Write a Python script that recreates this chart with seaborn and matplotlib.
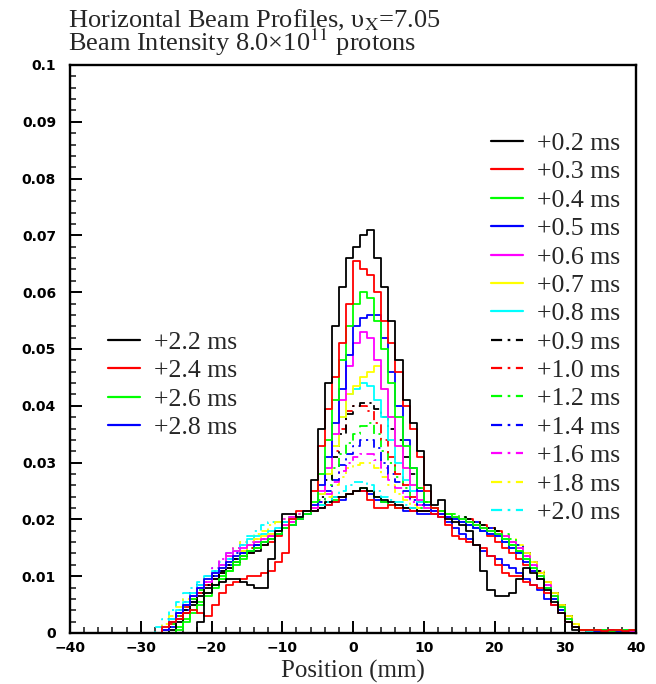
import numpy as np
import pandas as pd
import matplotlib
matplotlib.use("Agg")
import matplotlib.pyplot as plt
import seaborn as sns
from matplotlib.lines import Line2D
from matplotlib.ticker import MultipleLocator

# ---------------- data (values in units of 1e-3, 1 mm bins from -30 to 40 mm) ----------
bin_edges_mm = list(range(-30, 41))

t0_2 = [0,0,0,0,0,0,0,0,2,7,
        8.5,9,9.5,9.5,9,8.5,8,8,13,18,
        21,21,20.5,21.5,27,36,44,54,61,66,
        68,70,71,66,61,55,48,41,37,32,
        26,22.5,23.5,20,19.5,19,18,15.5,11,7.5,
        6.5,6.5,7,9.5,11.5,10.5,9.5,7.5,5.5,3.5,
        2,1,0,0,0,0,0,0,0,0]
t0_3 = [0,0,0,1,2,2.5,3.5,4,3.5,3,
        5,7,8.5,9,9.5,10,10,10.5,11,12.5,
        14,20,21.5,21.5,25,33,39.5,45,51,58,
        65.5,64,63,60,55,51,46,40,36,31,
        25,22,20.5,19,17,16.5,16,15.5,15,13.5,
        12,10.5,10,10,9,8.5,8,7,5,3.5,
        2,1,0.5,0.5,0.5,0.3,0.5,0.5,0.3,0.5]
t0_4 = [0,0,0,0,0,0.5,2,3.5,5,6.5,
        8,9.5,11,12.5,13.5,14.5,15,16,16.5,17.5,
        18.5,19,20,21,23,28,34,41,48,54,
        58,60,59,55,50,44,38,33,29,25.5,
        23,22,21.5,21,20.5,20,19.5,19,18.5,18,
        17.5,16.5,15.5,14.5,13,11.5,10,8,6.5,4.5,
        2.5,1,0.5,0.5,0.5,0.5,0.3,0.5,0.5,0.5]
t0_5 = [0,0,0,0.5,2,3.5,5,6.5,8,9.5,
        10.5,11.5,12.5,13.5,14,14.5,15.5,16,16.5,17.5,
        18.5,19,20,21,22.5,26,31,37,43,49,
        54,55.5,56,56,52,46,40,34,29,25,
        22.5,21.5,21,20.5,20,19.5,19,18.5,18,17.5,
        17,16,15,14,12.5,11,9.5,8,6,4,
        2,1,0.5,0.5,0.3,0.5,0.5,0.3,0.5,0.5]
t0_6 = [0,0,0,0.5,2,3.5,5,6.5,8,9,
        10.5,12,13.5,14.5,15,15.5,16,16.5,17,18,
        19,19.5,20,21,22,25,29,35,41,47,
        51,53,52,48,43,38,33,29,26,23.5,
        22,21.5,21,20.5,20.5,20,19.5,19,18.5,18,
        17.5,17,16,15,13.5,12,10,8.5,6.5,4.5,
        2.5,1,0.5,0.5,0.5,0.3,0.3,0.5,0.3,0.3]
t0_7 = [0,0,0,0.5,2,3.5,5,6.5,8,9.5,
        10.5,11.5,12.5,13.5,14.5,15.5,16.5,17,17.5,18,
        19,19.5,20,21,22,24.5,28,33,38,42,
        43.5,45,46,47,43,38,33,29,26,23.5,
        22,21.5,21,21,20.5,20,19.5,19,18.5,18,
        17.5,17,16,15,14,12.5,10.5,9,7,5,
        3,1.5,0.5,0.5,0.3,0.3,0.3,0.3,0.3,0.3]
t0_8 = [0,0,0,1,2.5,4,5.5,7,8.5,10,
        11,12,13,14.5,15.5,16.5,17,17.5,18,18.5,
        19.5,20,20.5,21,22,24.5,28,33,38,42,
        43,44,43.5,41,38,34,30,27,25,23,
        22,21.5,21,20.5,20,19.5,19,18.5,18,17.5,
        17,16,15,14,13,11.5,10,8,6,4,
        2,1,0.5,0.3,0.3,0.3,0.3,0.3,0.3,0.3]
t0_9 = [0,0,0,0,1,2.5,4,5.5,7,8.5,
        10,11,12,13,14,14.5,15.5,16,16.5,17.5,
        19.5,20,20.5,21,22,24,27,31,35,38.5,
        40,40.5,40.5,39.5,38,36,34,31,28,25.5,
        23,22,21.5,21,20.5,20.5,20,19.5,19,18.5,
        18,17,16,15,14,12.5,11,9,7,5,
        3,1.5,0.5,0,0,0,0,0,0,0]
t1_0 = [0,0,0,0.5,2,3.5,5,6.5,8,9,
        10.5,11.5,12.5,13.5,14,15,15.5,16,17,17.5,
        19.5,20,20.5,21,22,24.5,28,32,36,39,
        40,40,39,37,34,31,28,26,24,23,
        22,21.5,21.5,21,20.5,20,20,19.5,19,18.5,
        18,17,16,15,13.5,12,10.5,9,7,5,
        3,1.5,0.5,0.5,0.5,0.5,0.3,0.5,0.5,0.3]
t1_2 = [0,0,0,0,1.5,3,4.5,6,7.5,9,
        10.5,11.5,12.5,13.5,14.5,15,16,16.5,17,18,
        19.5,20,20.5,21,22,23.5,26,29,31.5,33.5,
        35,36.5,37,35,32,30,27.5,25.5,24,23,
        22.5,22,21.5,21,21,20.5,20,19.5,19,18.5,
        18,17.5,16.5,15,14,12.5,11,9,7,5,
        3,1.5,0.5,0.5,0.5,0.5,0.5,0.3,0.5,0.5]
t1_4 = [0,0,0,1,2.5,4,5.5,7,8.5,9.5,
        11,12,13,14,14.5,15.5,16,16.5,17,18,
        19.5,20,20.5,21,22,23,25,27,29.5,31.5,
        33,34,34,32.5,30,28,26.5,25,23.5,22.5,
        22,21.5,21,21,20.5,20,20,19.5,19,18.5,
        18,17,16,15.5,14,12.5,10.5,8.5,6.5,4.5,
        2.5,1,0.5,0.5,0.3,0.3,0.5,0.3,0.3,0.3]
t1_6 = [0,0,0,1,2.5,4,5.5,7,8.5,10,
        11.5,13,14,15,15.5,16,16.5,17,17.5,18.5,
        20,20.5,21,21.5,22,23,24.5,26.5,28.5,30,
        31,31.5,31.5,30.5,29,27,25.5,24,23,22.5,
        22,21.5,21,21,20.5,20,19.5,19,18.5,18,
        17.5,17,16,15,14,12.5,11,9,7,5,
        3,1.5,0.5,0.3,0.3,0.3,0.3,0.3,0.3,0.3]
t1_8 = [0,0,0,1.5,3,4.5,6,7,8.5,9.5,
        11,12,13.5,15,16,16.5,17.5,18,19,19.5,
        20,20.5,21,21.5,22,23,24,26,27.5,29,
        29.5,30,30,29,27.5,26,24.5,23.5,22.5,22,
        22,21.5,21,21,20.5,20,19.5,19,18.5,18,
        17.5,17,16.5,15.5,14,12.5,11,9,7,5,
        3,1.5,0.5,0.3,0.3,0.3,0.3,0.3,0.3,0.3]
t2_0 = [0,0,1,2.5,4,5.5,7,8,9,10,
        11.5,12.5,14,15,16,17,18,19,19.5,19.5,
        20,20.5,21,21.5,22,22.5,23,24,25,26,
        26.5,26.5,26,25,24,23.5,23,22.5,22,22,
        22,21.5,21,20.5,20.5,20,19.5,19,18.5,18,
        17.5,16.5,15.5,14.5,13.5,12,10.5,8.5,6.5,4.5,
        2.5,1,0.5,0.3,0.3,0.3,0.3,0.3,0.3,0.3]
t2_2 = [0,0,0,0,0.5,2,3.5,5,6.5,8,
        9.5,10.5,11.5,12.5,13.5,14,14.5,15.5,16.5,17.5,
        19.5,20,20.5,21,21.5,22,23,24,24,24.5,
        25,25.5,25,24,23.5,23,22.5,22,22,21.5,
        21.5,21.5,21,20.5,20,19.5,19,18.5,18,17.5,
        17,16,15,14,13,11.5,10,8,6,4,
        2,0.5,0,0,0,0,0,0,0,0]
t2_4 = [0,0,0,0,1.5,3,4.5,6,7,8.5,
        9.5,10.5,11.5,12.5,13.5,14,15,15.5,16,17,
        19.5,20,20.5,21,21.5,22,22.5,23,24,24.5,
        25,25,23.5,22,22,22.5,22,22,21.5,21.5,
        21.5,21,21,20.5,20,19.5,19,18.5,18,17,
        16,15,14,13,12,11,9.5,8,6,4,
        2.5,1,0.5,0.5,0.5,0.5,0.5,0.5,0.5,0.5]
t2_6 = [0,0,0,0,0,1,2.5,4,5.5,7,
        8.5,10,11,12,13,14,15,16,17,18,
        18.5,19,20,21,22,22.5,23,23.5,24,24.5,
        25,25.5,25,24,23,22.5,22,22,22,22,
        22,21.5,21,21,20.5,20,19.5,19,18.5,18,
        17.5,16.5,15.5,14.5,13,11.5,10,8,6.5,4.5,
        2.5,1,0.5,0.5,0.5,0.3,0.5,0.5,0.5,0.5]
t2_8 = [0,0,0,0,1,2.5,4,5.5,7,8.5,
        10,11,12,13,14,14.5,15,16,17,18,
        19,19.5,20,21,21.5,22,22.5,23,23.5,24.5,
        25,25,24.5,23.5,23,22.5,22,21.5,21.5,21,
        21,21,20.5,19.5,18.5,17.5,16.5,15.5,14.5,13.5,
        13,12,11.5,10.5,9.5,8.5,7.5,6,5,3.5,
        2,1,0.5,0.5,0.5,0.5,0.5,0.5,0.5,0.5]

series_labels = ["+0.2 ms", "+0.3 ms", "+0.4 ms", "+0.5 ms", "+0.6 ms", "+0.7 ms", "+0.8 ms",
                 "+0.9 ms", "+1.0 ms", "+1.2 ms", "+1.4 ms", "+1.6 ms", "+1.8 ms", "+2.0 ms",
                 "+2.2 ms", "+2.4 ms", "+2.6 ms", "+2.8 ms"]
series_values = [t0_2, t0_3, t0_4, t0_5, t0_6, t0_7, t0_8, t0_9, t1_0, t1_2, t1_4, t1_6,
                 t1_8, t2_0, t2_2, t2_4, t2_6, t2_8]

y_tick_values = [0, 0.01, 0.02, 0.03, 0.04, 0.05, 0.06, 0.07, 0.08, 0.09, 0.1]
y_tick_labels = ["0", "0.01", "0.02", "0.03", "0.04", "0.05", "0.06", "0.07", "0.08", "0.09", "0.1"]
x_tick_values = [-40, -30, -20, -10, 0, 10, 20, 30, 40]
x_tick_labels = ["\u221240", "\u221230", "\u221220", "\u221210", "0", "10", "20", "30", "40"]

# ---------------- styles ----------------
base_colors = ["#000000", "#ff0000", "#00ff00", "#0000ff", "#ff00ff", "#ffff00", "#00ffff"]
colors = base_colors + base_colors + ["#000000", "#ff0000", "#00ff00", "#0000ff"]
solid = "-"
dashdot = (0, (5, 2.5, 1.2, 2.5))
styles = [solid] * 7 + [dashdot] * 7 + [solid] * 4

sns.set_theme(style="white")
plt.rcParams["font.family"] = ["Liberation Serif", "DejaVu Serif"]
plt.rcParams["mathtext.fontset"] = "stix"

W, H = 656, 684
fig = plt.figure(figsize=(W / 100, H / 100), dpi=100)
ax = fig.add_axes([70 / W, 1 - 633 / H, (636 - 70) / W, (633 - 65) / H])

rows = []
for lab, vals in zip(series_labels, series_values):
    ys = [v / 1000.0 for v in vals] + [vals[-1] / 1000.0]
    for xe, yv in zip(bin_edges_mm, ys):
        rows.append((lab, xe, yv))
df = pd.DataFrame(rows, columns=["series", "x", "y"])

for i in range(len(series_labels))[::-1]:
    sub = df[df["series"] == series_labels[i]]
    sns.lineplot(data=sub, x="x", y="y", ax=ax, color=colors[i], linestyle=styles[i],
                 linewidth=1.3, drawstyle="steps-post", estimator=None, sort=False,
                 legend=False)

ax.set_xlim(-40, 40)
ax.set_ylim(0, 0.1)
ax.xaxis.set_minor_locator(MultipleLocator(2))
ax.yaxis.set_minor_locator(MultipleLocator(0.002))
ax.set_yticks(y_tick_values)
ax.set_yticklabels(y_tick_labels)
ax.set_xticks(x_tick_values)
ax.set_xticklabels(x_tick_labels)
ax.tick_params(axis="both", which="major", direction="in", length=8.5, width=1.4,
               bottom=True, left=True, top=False, right=False, colors="black")
ax.tick_params(axis="both", which="minor", direction="in", length=4.5, width=1.2,
               bottom=True, left=True, top=False, right=False)
ax.tick_params(axis="y", which="major", pad=10)
ax.tick_params(axis="x", which="major", pad=6)
for lbl in ax.get_xticklabels() + ax.get_yticklabels():
    lbl.set_fontfamily("DejaVu Sans")
    lbl.set_fontweight("bold")
    lbl.set_fontsize(10)
for sp in ax.spines.values():
    sp.set_visible(True)
    sp.set_color("black")
    sp.set_linewidth(1.7)
ax.set_xlabel("Position (mm)", fontsize=18, labelpad=3)
ax.set_ylabel("")
ax.grid(False)

# titles
fig.text(68 / W, 1 - 27 / H, "Horizontal Beam Profiles, \u03c5$_{\\rm X}$=7.05", fontsize=19,
         ha="left", va="baseline")
fig.text(68 / W, 1 - 51 / H, "Beam Intensity 8.0\u00d710$^{11}$ protons", fontsize=19,
         ha="left", va="baseline")

# legends
def make_handles(idx):
    return [Line2D([0], [0], color=colors[i], linestyle=styles[i], linewidth=1.6) for i in idx]

right_idx = list(range(14))
left_idx = list(range(14, 18))
leg1 = ax.legend(make_handles(right_idx), [series_labels[i] for i in right_idx],
                 loc="upper left", bbox_to_anchor=(491 / W, 1 - 132 / H),
                 bbox_transform=fig.transFigure, frameon=False, fontsize=18.5,
                 handlelength=1.25, handletextpad=0.55, labelspacing=0.21,
                 borderpad=0, borderaxespad=0)
ax.add_artist(leg1)
leg2 = ax.legend(make_handles(left_idx), [series_labels[i] for i in left_idx],
                 loc="upper left", bbox_to_anchor=(108 / W, 1 - 331 / H),
                 bbox_transform=fig.transFigure, frameon=False, fontsize=18.5,
                 handlelength=1.25, handletextpad=0.55, labelspacing=0.21,
                 borderpad=0, borderaxespad=0)

fig.savefig("out.png", dpi=100, facecolor="white")
